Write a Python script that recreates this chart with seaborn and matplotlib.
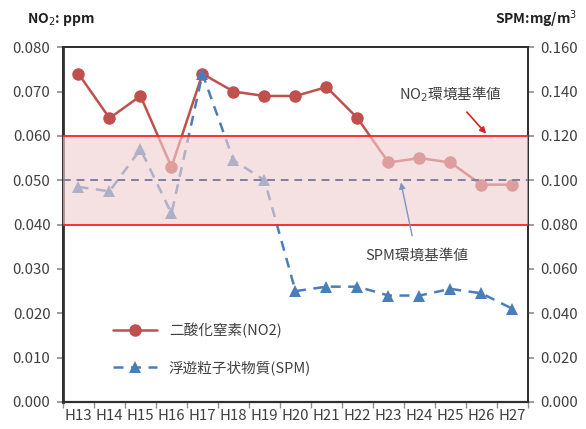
import matplotlib
matplotlib.use("Agg")
import matplotlib.pyplot as plt
import seaborn as sns
import pandas as pd
import numpy as np

# Annual averages, Heisei 13 - 27
years = ["H13", "H14", "H15", "H16", "H17", "H18", "H19", "H20",
         "H21", "H22", "H23", "H24", "H25", "H26", "H27"]
no2_ppm = [0.074, 0.064, 0.069, 0.053, 0.074, 0.070, 0.069, 0.069,
           0.071, 0.064, 0.054, 0.055, 0.054, 0.049, 0.049]
spm_mg = [0.097, 0.095, 0.114, 0.085, 0.148, 0.109, 0.100, 0.050,
          0.052, 0.052, 0.048, 0.048, 0.051, 0.049, 0.042]

# Environmental standard ranges
no2_std_low, no2_std_high = 0.040, 0.060
spm_std = 0.100

no2_name = "二酸化窒素(NO2)"
spm_name = "浮遊粒子状物質(SPM)"

sns.set_theme(style="white")
plt.rcParams["font.family"] = ["Noto Sans CJK JP", "DejaVu Sans"]

df = pd.DataFrame({"year": years, "no2": no2_ppm, "spm": spm_mg})
df["pos"] = np.arange(len(years))

fig = plt.figure(figsize=(5.86, 4.29), dpi=100)
ax = fig.add_axes([0.1075, 0.063, 0.7935, 0.827])
ax2 = ax.twinx()

red = "#C0504D"
blue = "#4A7EBB"

sns.lineplot(data=df, x="pos", y="no2", ax=ax, color=red, marker="o",
             markersize=9, markeredgewidth=0, linewidth=1.8, label=no2_name,
             legend=False)
sns.lineplot(data=df, x="pos", y="spm", ax=ax2, color=blue, marker="^",
             markersize=9, markeredgewidth=0, linewidth=1.8, label=spm_name,
             legend=False)
ax2.lines[0].set_dashes([4, 3])

ax.set_ylim(0, 0.08)
ax2.set_ylim(0, 0.16)
ax.set_xlim(-0.5, len(years) - 0.5)

# Standard band drawn over the series, in SPM units (x2 of NO2 ppm)
ax2.axhspan(no2_std_low * 2, no2_std_high * 2, color="#EFCFCF", alpha=0.62,
            zorder=5, linewidth=0)
ax2.axhline(no2_std_low * 2, color="#FF2020", lw=1.3, zorder=6)
ax2.axhline(no2_std_high * 2, color="#FF2020", lw=1.3, zorder=6)
ax2.axhline(spm_std, color="#7F7FA0", lw=1.4, ls=(0, (4, 3)), zorder=6)

ax.set_yticks(np.arange(0, 0.0801, 0.01))
ax.set_yticklabels([f"{v:.3f}" for v in np.arange(0, 0.0801, 0.01)])
ax2.set_yticks(np.arange(0, 0.1601, 0.02))
ax2.set_yticklabels([f"{v:.3f}" for v in np.arange(0, 0.1601, 0.02)])
ax.set_xticks(df["pos"])
ax.set_xticklabels(years)
ax.set_xticks(np.arange(-0.5, len(years)), minor=True)

ax.set_xlabel("")
ax.set_ylabel("")
ax2.set_ylabel("")

tick_color = "#404040"
fs = 10.8
ax.tick_params(axis="x", which="major", length=0, pad=5, labelsize=fs,
               colors=tick_color)
ax.tick_params(axis="x", which="minor", length=4, bottom=True,
               color="#909090")
ax.tick_params(axis="y", length=4, left=True, color="#909090", pad=5,
               labelsize=fs, labelcolor=tick_color)
ax2.tick_params(axis="y", length=4, right=True, color="#909090", pad=5,
                labelsize=fs, labelcolor=tick_color)

for a in (ax, ax2):
    for s in a.spines.values():
        s.set_visible(True)
        s.set_color("#303030")
        s.set_linewidth(1.3)
ax.spines["left"].set_linewidth(2)
ax.spines["bottom"].set_linewidth(1.6)

fig.text(0.046, 0.955, "NO$_2$: ppm", fontsize=10, fontweight="bold",
         ha="left", va="center", color="#202020")
fig.text(0.985, 0.955, "SPM:mg/m$^3$", fontsize=10, fontweight="bold",
         ha="right", va="center", color="#202020")

ax2.annotate("NO$_2$環境基準値", xy=(13.15, 0.121), xytext=(12.0, 0.139),
             ha="center", va="center", fontsize=10.5, color="#404040",
             arrowprops=dict(arrowstyle="-|>", color="#E02020", lw=1.2,
                             shrinkA=5, shrinkB=0, mutation_scale=9),
             zorder=8)
ax2.annotate("SPM環境基準値", xy=(10.4, 0.099), xytext=(10.9, 0.066),
             ha="center", va="center", fontsize=10.5, color="#404040",
             arrowprops=dict(arrowstyle="-|>", color="#7F95C0", lw=1.0,
                             shrinkA=7, shrinkB=0, mutation_scale=9),
             zorder=8)

h1, l1 = ax.get_legend_handles_labels()
h2, l2 = ax2.get_legend_handles_labels()
leg = ax2.legend(h1 + h2, l1 + l2, loc="lower left",
                 bbox_to_anchor=(0.08, 0.038), frameon=False, fontsize=10.5,
                 handlelength=3, labelspacing=1.5)
for t in leg.get_texts():
    t.set_color("#404040")
leg.set_zorder(9)

fig.savefig("out.png", dpi=100)
